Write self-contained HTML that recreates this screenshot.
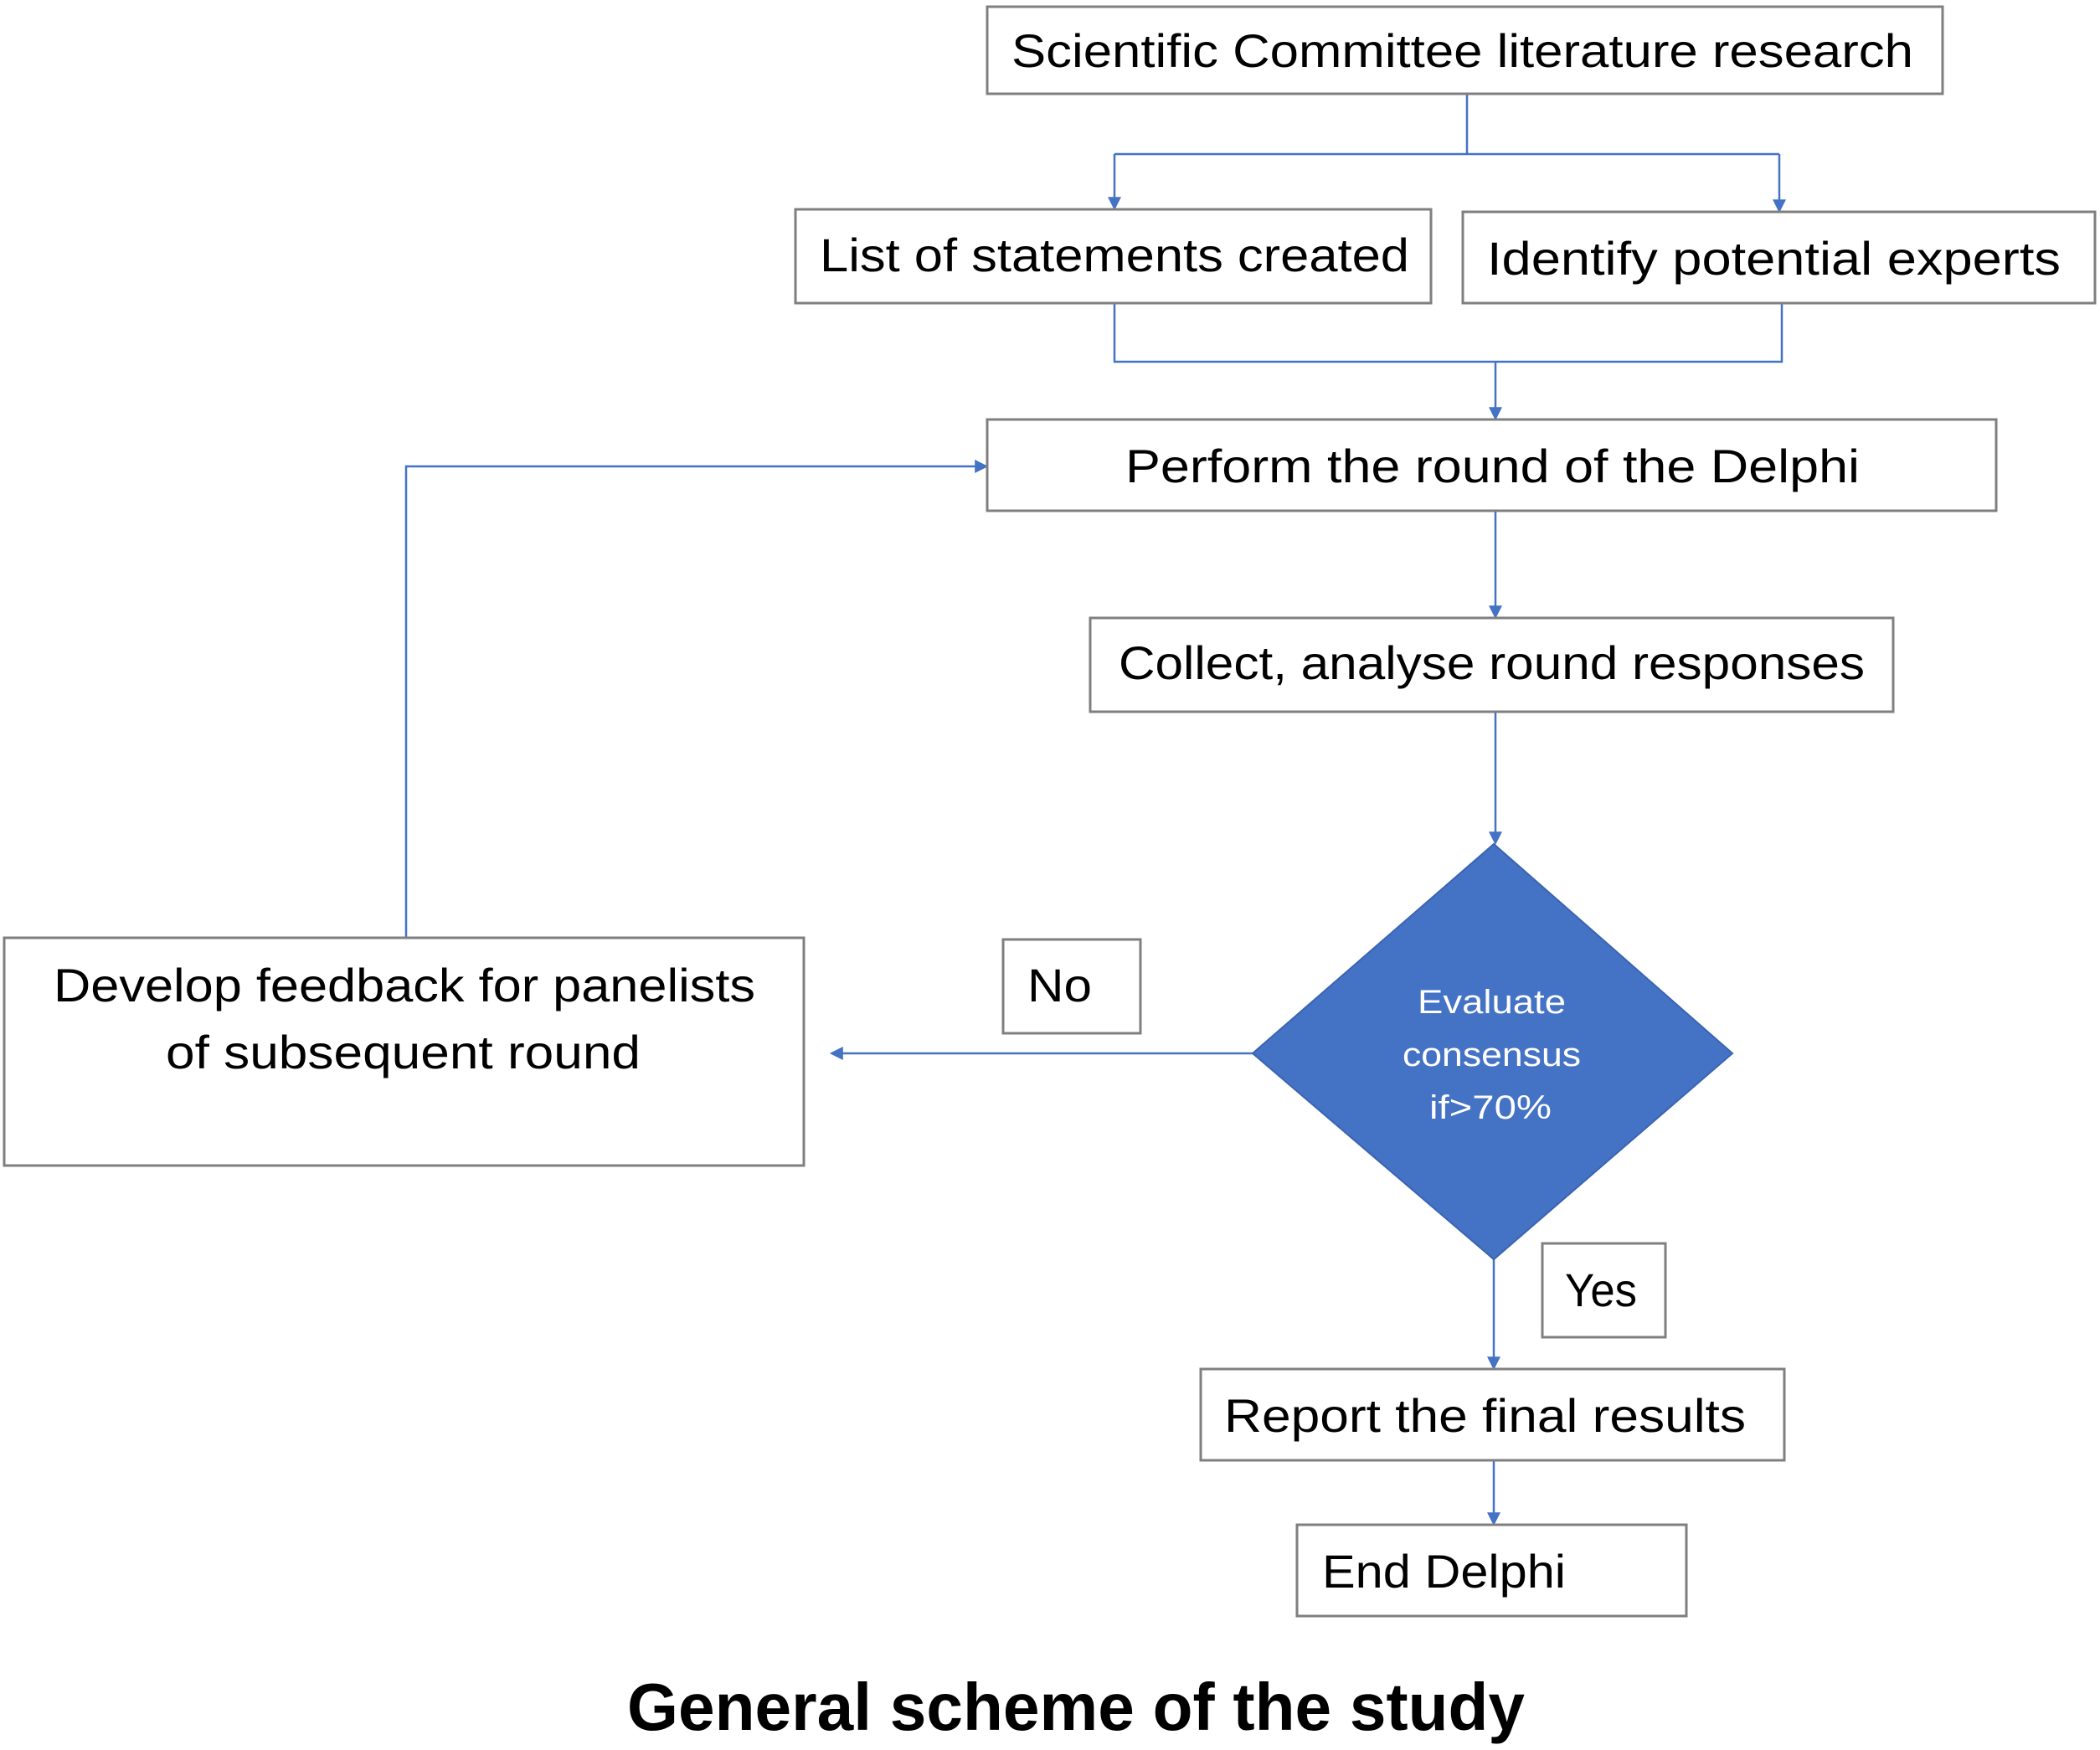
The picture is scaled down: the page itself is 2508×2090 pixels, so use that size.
<!DOCTYPE html>
<html><head><meta charset="utf-8"><style>
html,body{margin:0;padding:0;background:#fff;}
svg{display:block;}
text{font-family:"Liberation Sans",sans-serif;fill:#000;}
</style></head><body>
<svg width="2508" height="2090" viewBox="0 0 2508 2090" xmlns="http://www.w3.org/2000/svg">
<defs>
<marker id="a" markerWidth="16" markerHeight="16" refX="8" refY="5" orient="auto" markerUnits="userSpaceOnUse" viewBox="0 0 10 10">
<path d="M0,0 L10,5 L0,10 z" fill="#4472C4"/></marker>
</defs>
<g fill="none" stroke="#4472C4" stroke-width="2.5">
<path d="M1752,112 V184"/>
<path d="M1331,184 H2125"/>
<path d="M1331,184 V248" marker-end="url(#a)"/>
<path d="M2125,184 V251" marker-end="url(#a)"/>
<path d="M1331,362 V432 H2128 V362"/>
<path d="M1786,432 V499" marker-end="url(#a)"/>
<path d="M1786,610 V736" marker-end="url(#a)"/>
<path d="M1786,850 V1006" marker-end="url(#a)"/>
<path d="M1496,1258 H994" marker-end="url(#a)"/>
<path d="M485,1120 V557 H1177" marker-end="url(#a)"/>
<path d="M1784,1504 V1633" marker-end="url(#a)"/>
<path d="M1784,1744 V1819" marker-end="url(#a)"/>
</g>
<g fill="#fff" stroke="#7f7f7f" stroke-width="3">
<rect x="1179" y="8" width="1141" height="104"/>
<rect x="950" y="250" width="759" height="112"/>
<rect x="1747" y="253" width="755" height="109"/>
<rect x="1179" y="501" width="1205" height="109"/>
<rect x="1302" y="738" width="959" height="112"/>
<rect x="5" y="1120" width="955" height="272"/>
<rect x="1198" y="1122" width="164" height="112"/>
<rect x="1842" y="1485" width="147" height="112"/>
<rect x="1434" y="1635" width="697" height="109"/>
<rect x="1549" y="1821" width="465" height="109"/>
</g>
<polygon points="1784,1008 2069,1258 1784,1504 1496,1258" fill="#4472C4" stroke="#3a64b0" stroke-width="2"/>
<g font-size="56">
<text x="1208" y="80" textLength="1077" lengthAdjust="spacingAndGlyphs">Scientific Committee literature research</text>
<text x="979" y="324" textLength="704" lengthAdjust="spacingAndGlyphs">List of statements created</text>
<text x="1776" y="328" textLength="685" lengthAdjust="spacingAndGlyphs">Identify potential experts</text>
<text x="1344" y="576" textLength="877" lengthAdjust="spacingAndGlyphs">Perform the round of the Delphi</text>
<text x="1336" y="811" textLength="891" lengthAdjust="spacingAndGlyphs">Collect, analyse round responses</text>
<text x="64" y="1196" textLength="838" lengthAdjust="spacingAndGlyphs">Develop feedback for panelists</text>
<text x="198" y="1276" textLength="567" lengthAdjust="spacingAndGlyphs">of subsequent round</text>
<text x="1227" y="1196" textLength="77" lengthAdjust="spacingAndGlyphs">No</text>
<text x="1869" y="1560" textLength="86" lengthAdjust="spacingAndGlyphs">Yes</text>
<text x="1462" y="1710" textLength="623" lengthAdjust="spacingAndGlyphs">Report the final results</text>
<text x="1579" y="1896" textLength="291" lengthAdjust="spacingAndGlyphs">End Delphi</text>
</g>
<g font-size="40" style="fill:#fff">
<text x="1693" y="1210" textLength="177" lengthAdjust="spacingAndGlyphs" style="fill:#fff">Evaluate</text>
<text x="1675" y="1273" textLength="213" lengthAdjust="spacingAndGlyphs" style="fill:#fff">consensus</text>
<text x="1707" y="1336" textLength="146" lengthAdjust="spacingAndGlyphs" style="fill:#fff">if&gt;70%</text>
</g>
<text x="749" y="2066" font-size="80" font-weight="bold" textLength="1072" lengthAdjust="spacingAndGlyphs">General scheme of the study</text>
</svg>
</body></html>
